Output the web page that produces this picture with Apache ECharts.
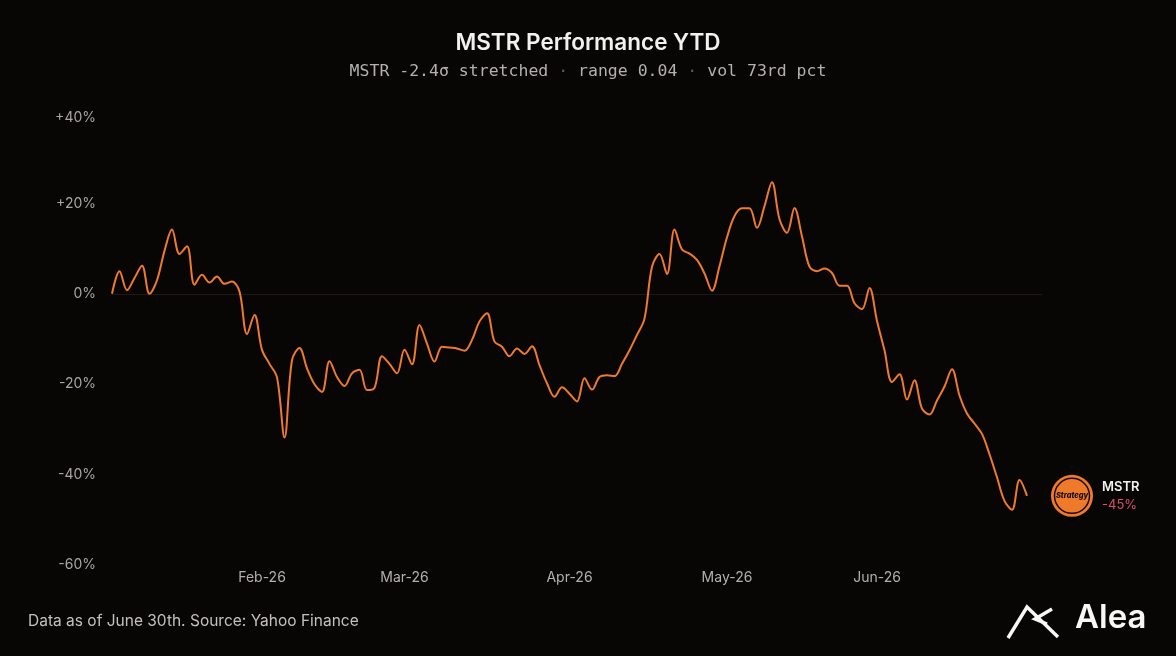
<!DOCTYPE html>
<html>
<head>
    <meta charset="utf-8">
    <title>MSTR Performance YTD</title>
    <script src="https://cdn.jsdelivr.net/npm/echarts@6/dist/echarts.min.js"></script>
</head>
<body style="margin:0px;background:#070605;">
    <div id="main" style="width:1176px;height:656px;"></div>
    <script type="text/javascript">
    // trading days, Jan 2 - Jun 30 2026 (MM-DD)
    var dates = [
        '01-02','01-05','01-06','01-07','01-08','01-09','01-12','01-13','01-14','01-15','01-16',
        '01-20','01-21','01-22','01-23','01-26','01-27','01-28','01-29','01-30',
        '02-02','02-03','02-04','02-05','02-06','02-09','02-10','02-11','02-12','02-13',
        '02-17','02-18','02-19','02-20','02-23','02-24','02-25','02-26','02-27',
        '03-02','03-03','03-04','03-05','03-06','03-09','03-10','03-11','03-12','03-13',
        '03-16','03-17','03-18','03-19','03-20','03-23','03-24','03-25','03-26','03-27','03-30','03-31',
        '04-01','04-02','04-06','04-07','04-08','04-09','04-10','04-13','04-14','04-15','04-16','04-17',
        '04-20','04-21','04-22','04-23','04-24','04-27','04-28','04-29','04-30',
        '05-01','05-04','05-05','05-06','05-07','05-08','05-11','05-12','05-13','05-14','05-15',
        '05-18','05-19','05-20','05-21','05-22','05-26','05-27','05-28','05-29',
        '06-01','06-02','06-03','06-04','06-05','06-08','06-09','06-10','06-11','06-12',
        '06-15','06-16','06-17','06-18','06-22','06-23','06-24','06-25','06-26','06-29','06-30'
    ];
    // two empty slots to leave room on the right of the axis
    var padding = ['', ''];

    // cumulative return, %
    var mstr = [
        0, 5, 0.8, 3.5, 6.2, 0, 3, 9.5, 14.2, 8.8,
        10.5, 2, 4.2, 2.5, 3.8, 2.2, 2.7, 0.5, -8.9, -4.7,
        -12.4, -15.5, -18.5, -31.8, -14.7, -12, -16.5, -20, -21.7, -14.9,
        -18.4, -20.4, -17.6, -16.8, -21.3, -20.8, -13.8, -15.5, -17.6, -12.4,
        -15.6, -6.9, -11, -15, -11.7, -11.9, -12.1, -12.6, -10.2, -6.1,
        -4.3, -10.6, -11.7, -13.8, -12.1, -13.3, -11.6, -15.8, -19.8, -22.8,
        -20.7, -22.1, -23.8, -18.7, -21.2, -18.4, -18, -18.2, -15.5, -12.5,
        -9.1, -5.5, 6, 8.8, 4.4, 14.2, 9.8, 8.9, 7.5, 4.5,
        0.7, 6.1, 12.5, 17.2, 18.9, 18.9, 14.6, 19.4, 24.7, 16.5,
        13.5, 19, 12.7, 6, 5, 5.6, 4.6, 1.8, 1.8, -2.1,
        -3.4, 1.3, -6, -12.5, -19.5, -17.8, -23.4, -19.1, -25.4, -26.7,
        -23.6, -20.5, -16.7, -22.5, -26.5, -28.7, -31, -35.5, -40.6, -45.8,
        -47.8, -41.2, -44.7
    ];

    var monthStarts = ['02-02', '03-02', '04-01', '05-01', '06-01'];
    var monthLabels = ['Feb-26', 'Mar-26', 'Apr-26', 'May-26', 'Jun-26'];
    var yTicks = [-60, -40, -20, 0, 20, 40];
    var subParts = ['MSTR -2.4σ stretched', 'range 0.04', 'vol 73rd pct'];

    var orange = '#f07a2c';
    var lastIdx = mstr.length - 1;
    var lastVal = mstr[lastIdx];
    var yMax = yTicks[yTicks.length - 1];

    var myChart = echarts.init(document.getElementById('main'));

    myChart.setOption({
        backgroundColor: '#070605',
        animation: false,
        title: {
            text: 'MSTR Performance YTD',
            subtext: subParts.join(' {d|·} '),
            left: 'center',
            top: 27,
            itemGap: 8,
            textStyle: {
                color: '#f3f1ee',
                fontFamily: 'Inter',
                fontWeight: 600,
                fontSize: 22.5
            },
            subtextStyle: {
                color: '#b4b1ad',
                fontFamily: 'DejaVu Sans Mono',
                fontSize: 16.5,
                rich: {
                    d: { color: '#5f5c59', fontFamily: 'DejaVu Sans Mono', fontSize: 16.5 }
                }
            }
        },
        grid: {
            left: 112,
            right: 134,
            top: 113,
            bottom: 91
        },
        xAxis: {
            type: 'category',
            boundaryGap: false,
            data: dates.concat(padding),
            axisLine: { show: false },
            axisTick: { show: false },
            axisLabel: {
                color: '#b3b0ac',
                fontFamily: 'Inter',
                fontSize: 14,
                margin: 6,
                interval: function (i, v) { return monthStarts.indexOf(v) >= 0; },
                formatter: function (v) {
                    var k = monthStarts.indexOf(v);
                    return k >= 0 ? monthLabels[k] : '';
                }
            }
        },
        yAxis: {
            type: 'value',
            min: yTicks[0],
            max: yMax,
            interval: 20,
            axisLine: { show: false },
            axisTick: { show: false },
            axisLabel: {
                color: '#a9a6a2',
                fontFamily: 'Inter',
                fontSize: 14,
                margin: 16,
                formatter: function (v) {
                    var s = (v > 0 ? '+' : '') + v + '%';
                    return v === yMax ? '{t|' + s + '}' : s;
                },
                rich: {
                    t: { color: '#a9a6a2', fontFamily: 'Inter', fontSize: 14, padding: [9, 0, 0, 0] }
                }
            },
            splitLine: {
                lineStyle: {
                    color: yTicks.map(function (t) { return t === 0 ? '#1f1915' : 'rgba(0,0,0,0)'; }),
                    width: 1
                }
            }
        },
        series: [{
            name: 'MSTR',
            type: 'line',
            data: mstr,
            smooth: 0.35,
            symbol: 'none',
            lineStyle: { color: orange, width: 2 },
            endLabel: {
                show: true,
                distance: 75,
                formatter: function () {
                    return '{a|MSTR}\n{b|' + Math.round(lastVal) + '%}';
                },
                rich: {
                    a: { color: '#f3f1ee', fontFamily: 'Inter', fontWeight: 600, fontSize: 13, lineHeight: 18 },
                    b: { color: '#d94f6a', fontFamily: 'Inter', fontSize: 13, lineHeight: 18 }
                }
            },
            markPoint: {
                silent: true,
                data: [
                    {
                        coord: [lastIdx, lastVal],
                        symbol: 'circle',
                        symbolSize: 42,
                        symbolOffset: [45, 0],
                        itemStyle: { color: orange },
                        label: { show: false }
                    },
                    {
                        coord: [lastIdx, lastVal],
                        symbol: 'circle',
                        symbolSize: 35,
                        symbolOffset: [45, 0],
                        itemStyle: { color: orange, borderColor: '#1a0d05', borderWidth: 1.5 },
                        label: {
                            show: true,
                            position: 'inside',
                            formatter: 'Strategy',
                            color: '#140a04',
                            fontFamily: 'Inter',
                            fontWeight: 800,
                            fontStyle: 'italic',
                            fontSize: 7.5
                        }
                    }
                ]
            }
        }],
        graphic: [
            {
                type: 'text',
                left: 28,
                top: 613,
                style: {
                    text: 'Data as of June 30th. Source: Yahoo Finance',
                    fill: '#c4c1bd',
                    font: '15.5px Inter'
                }
            },
            {
                type: 'polyline',
                shape: { points: [[1008, 638], [1027, 607], [1058, 637]] },
                style: { stroke: '#f7f7f7', lineWidth: 3.5, fill: null }
            },
            {
                type: 'polyline',
                shape: { points: [[1052, 609], [1035, 619], [1047, 624]] },
                style: { stroke: '#f7f7f7', lineWidth: 3.5, fill: null }
            },
            {
                type: 'text',
                left: 1075,
                top: 602,
                style: {
                    text: 'Alea',
                    fill: '#f7f7f7',
                    font: '600 33px Inter'
                }
            }
        ]
    });
    </script>
</body>
</html>
